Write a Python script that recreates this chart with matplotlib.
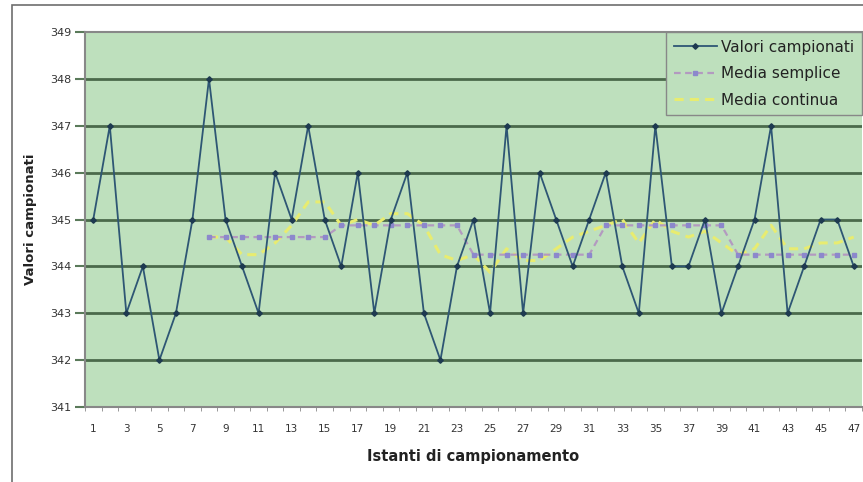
import numpy as np
import matplotlib.pyplot as plt
from matplotlib.patches import Rectangle

plt.rcParams['font.family'] = ['DejaVu Sans']

istanti = list(range(1, 48))

valori = [345, 347, 343, 344, 342, 343, 345, 348, 345, 344,
          343, 346, 345, 347, 345, 344, 346, 343, 345, 346,
          343, 342, 344, 345, 343, 347, 343, 346, 345, 344,
          345, 346, 344, 343, 347, 344, 344, 345, 343, 344,
          345, 347, 343, 344, 345, 345, 344]

# media a blocchi di 8 campioni (vuota per i primi 7 istanti)
media_semplice = [None] * 7 + [344.625] * 8 + [344.875] * 8 + [344.25] * 8 \
    + [344.875] * 8 + [344.25] * 8

# media mobile su 8 campioni
media_continua = [None] * 7 + [344.625, 344.625, 344.25, 344.25, 344.5,
                               344.875, 345.375, 345.375, 344.875, 345.0,
                               344.875, 345.125, 345.125, 344.875, 344.25,
                               344.125, 344.25, 343.875, 344.375, 344.125,
                               344.125, 344.375, 344.625, 344.75, 344.875,
                               345.0, 344.5, 345.0, 344.75, 344.625,
                               344.75, 344.5, 344.25, 344.375, 344.875,
                               344.375, 344.375, 344.5, 344.5, 344.625]

x = np.array(istanti)
ms = np.array([np.nan if v is None else v for v in media_semplice])
mc = np.array([np.nan if v is None else v for v in media_continua])

fig = plt.figure(figsize=(8.63, 4.82), dpi=100)
fig.patch.set_facecolor('white')

# cornice del grafico
fig.patches.append(Rectangle((12 / 863, -0.05), 1.0, (482 - 5) / 482 + 0.05,
                             transform=fig.transFigure, fill=False,
                             edgecolor='#6e6e6e', linewidth=1.2))

ax = fig.add_axes([85 / 863, 1 - 407 / 482, 777 / 863, 375 / 482])
ax.set_facecolor('#bee0bd')

for y in range(342, 349):
    ax.axhline(y, color='#4b6a4b', linewidth=2.0, zorder=1)

ax.plot(x, valori, color='#2e5674', linewidth=1.3, marker='D',
        markersize=2.8, markerfacecolor='#1e3a50', markeredgecolor='#1e3a50',
        label='Valori campionati', zorder=4)
ax.plot(x, ms, color='#b39ac0', linewidth=1.6, linestyle=(0, (3, 2)),
        marker='s', markersize=3.2, markerfacecolor='#8c88cc',
        markeredgecolor='#8c88cc', label='Media semplice', zorder=3)
ax.plot(x, mc, color='#e8ec70', linewidth=2.2, linestyle=(0, (3, 2)),
        label='Media continua', zorder=2)

ax.set_xlim(0.5, 47.5)
ax.set_ylim(341, 349)
ax.set_yticks(range(341, 350))
ax.set_xticks(istanti[::2])
ax.set_xticks(np.arange(0.5, 48, 1), minor=True)
ax.tick_params(axis='x', which='major', length=0, pad=12, labelsize=7.5,
               labelcolor='#333333')
ax.tick_params(axis='x', which='minor', length=3, color='#888888')
ax.tick_params(axis='y', length=7, width=1.5, color='#5a7a5a', labelsize=8,
               labelcolor='#333333', pad=3)

for s in ['left', 'bottom', 'top']:
    ax.spines[s].set_color('#888888')
    ax.spines[s].set_linewidth(1.5)
ax.spines['right'].set_visible(False)

ax.set_xlabel('Istanti di campionamento', fontsize=10.5, fontweight='bold',
              color='#222222', labelpad=11)
ax.set_ylabel('Valori campionati', fontsize=9.5, fontweight='bold',
              color='#222222', labelpad=9)

leg = ax.legend(loc='upper right', bbox_to_anchor=(1.0, 1.0), fontsize=11,
                frameon=True, fancybox=False, handlelength=2.8,
                handletextpad=0.3, borderpad=0.5, labelspacing=0.75,
                borderaxespad=0.0)
leg.get_frame().set_facecolor('#bee0bd')
leg.get_frame().set_edgecolor('#888888')
leg.get_frame().set_alpha(1.0)
for t in leg.get_texts():
    t.set_color('#222222')

fig.savefig('out.png', dpi=100)
